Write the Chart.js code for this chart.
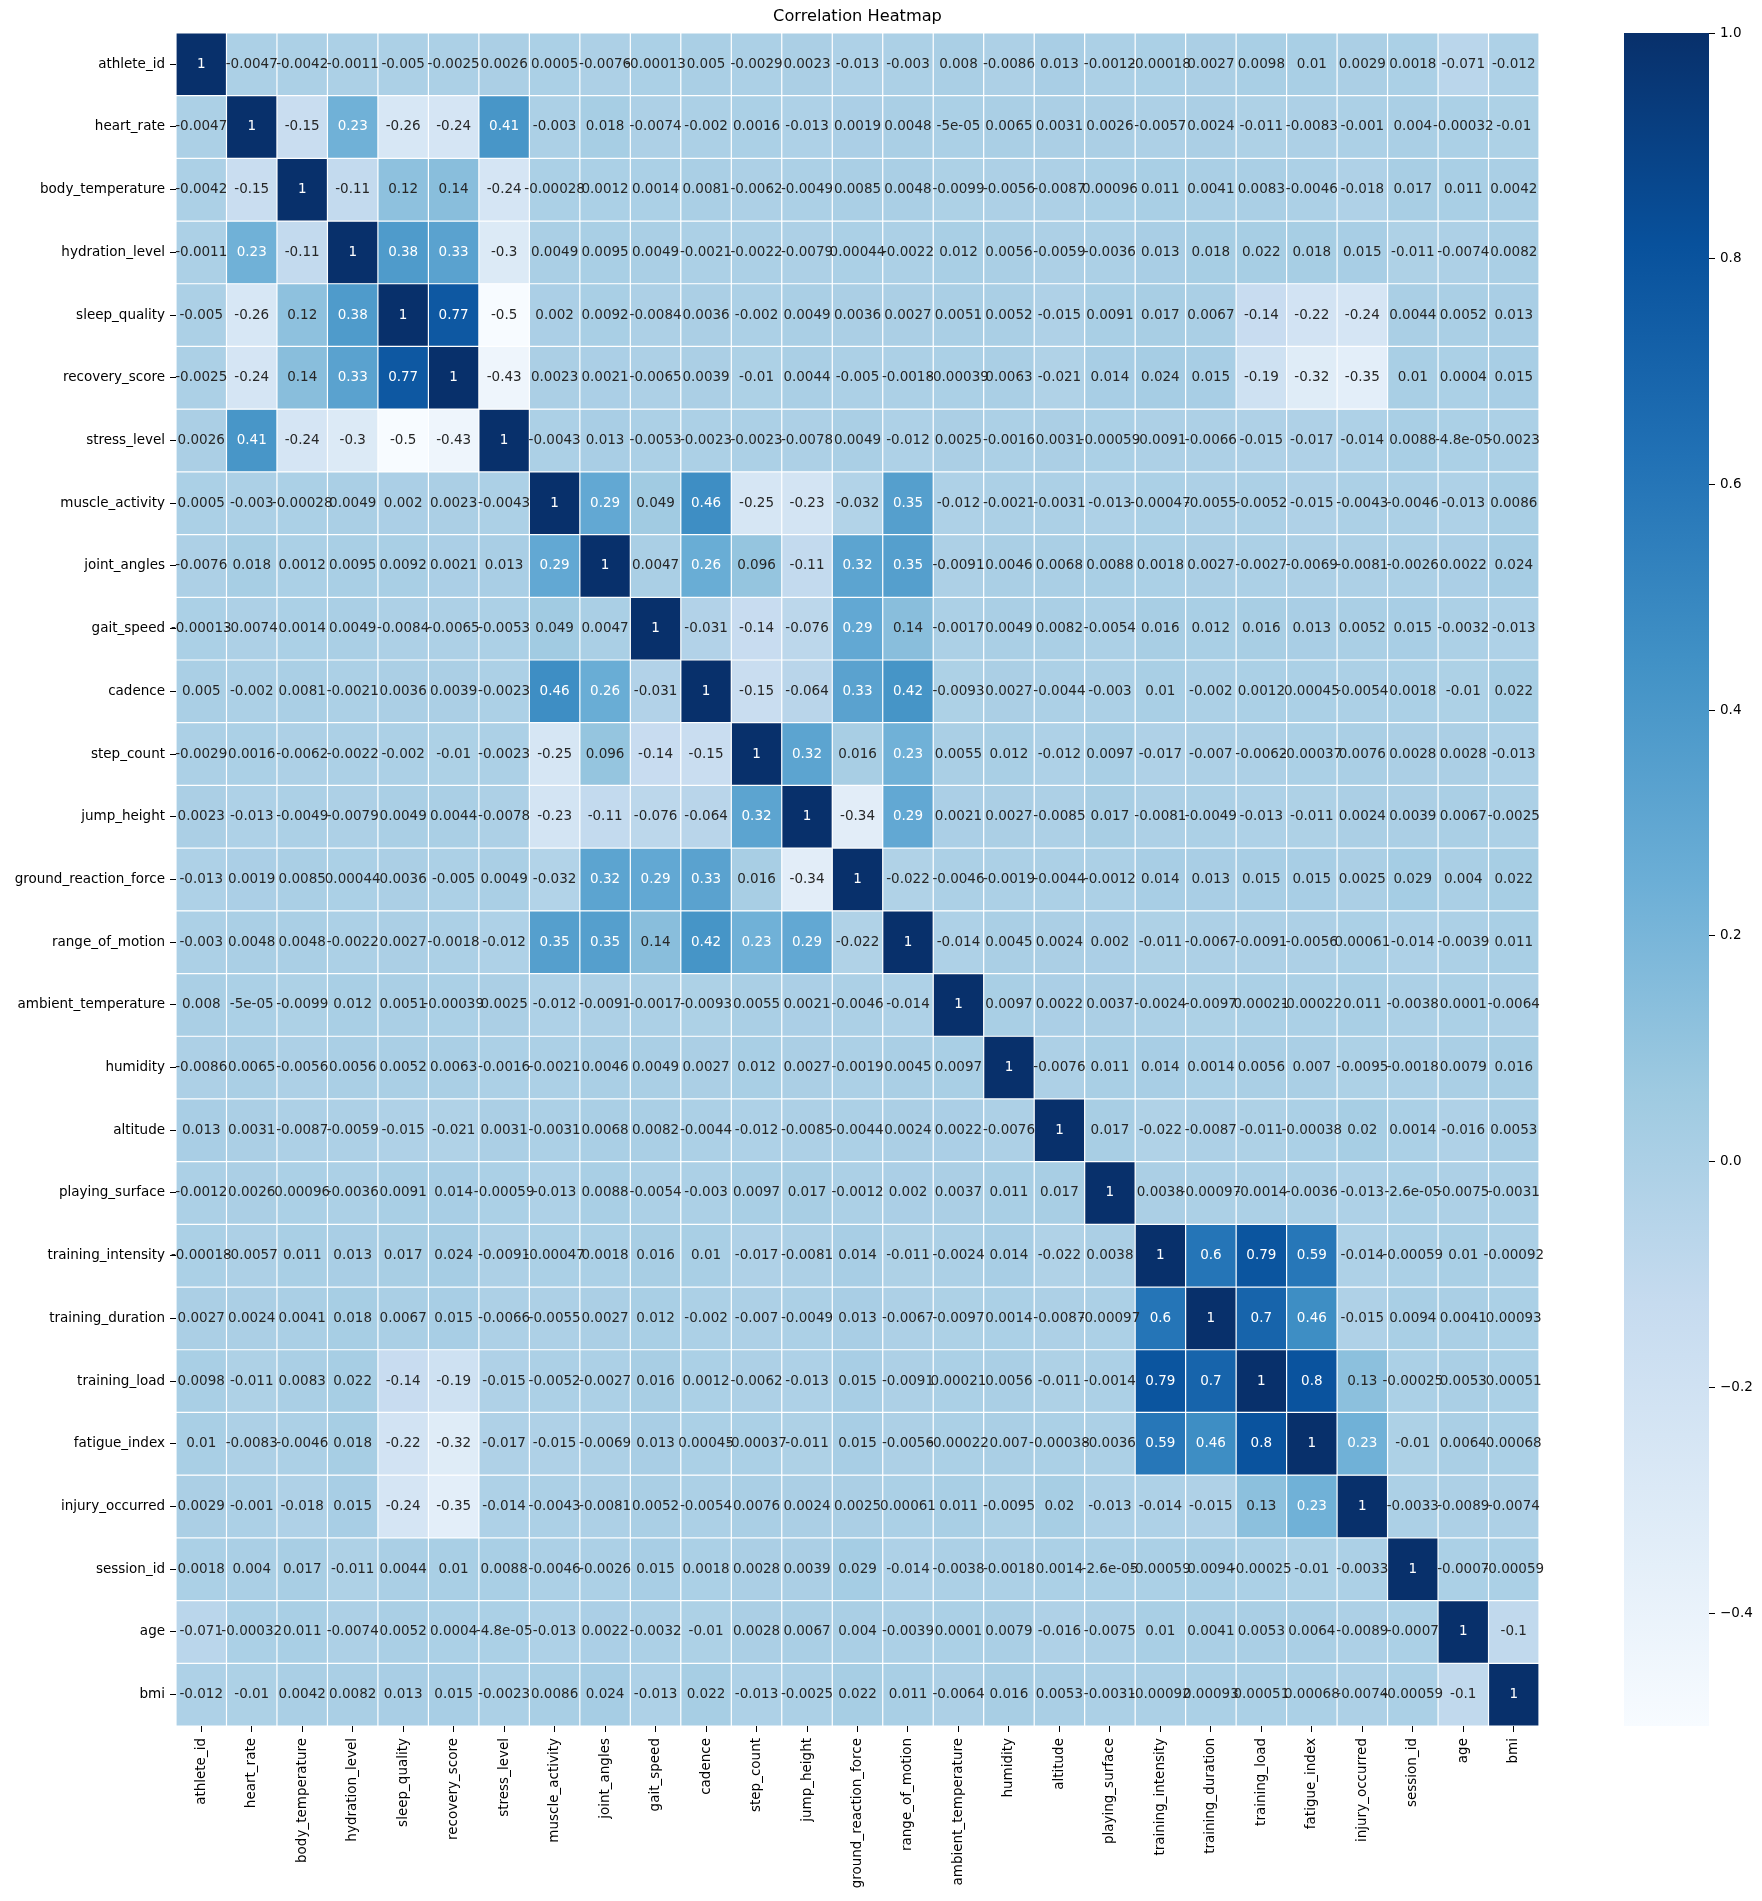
<!DOCTYPE html>
<html>
<head>
<meta charset="utf-8">
<title>Correlation Heatmap</title>
<script src="https://cdn.jsdelivr.net/npm/chart.js@4.4.1/dist/chart.umd.min.js"></script>
<style>
  html, body { margin: 0; padding: 0; background: #fff; }
  #wrap { position: relative; width: 1762px; height: 1901px; }
  #heatBox { position: absolute; left: 0; top: 0; width: 1600px; height: 1901px; }
  #barBox { position: absolute; left: 1600px; top: 0; width: 162px; height: 1901px; }
</style>
</head>
<body>
<div id="wrap">
  <div id="heatBox"><canvas id="heat"></canvas></div>
  <div id="barBox"><canvas id="cbar"></canvas></div>
</div>
<script>
// variable names (rows top to bottom, columns left to right)
const variables = ['athlete_id', 'heart_rate', 'body_temperature', 'hydration_level', 'sleep_quality',
  'recovery_score', 'stress_level', 'muscle_activity', 'joint_angles', 'gait_speed', 'cadence',
  'step_count', 'jump_height', 'ground_reaction_force', 'range_of_motion', 'ambient_temperature',
  'humidity', 'altitude', 'playing_surface', 'training_intensity', 'training_duration',
  'training_load', 'fatigue_index', 'injury_occurred', 'session_id', 'age', 'bmi'];

// one row of correlations per variable
const athlete_id = [1, -0.0047, -0.0042, -0.0011, -0.005, -0.0025, 0.0026, 0.0005, -0.0076, -0.00013, 0.005, -0.0029, 0.0023, -0.013, -0.003, 0.008, -0.0086, 0.013, -0.0012, -0.00018, 0.0027, 0.0098, 0.01, 0.0029, 0.0018, -0.071, -0.012];
const heart_rate = [-0.0047, 1, -0.15, 0.23, -0.26, -0.24, 0.41, -0.003, 0.018, -0.0074, -0.002, 0.0016, -0.013, 0.0019, 0.0048, -5e-05, 0.0065, 0.0031, 0.0026, -0.0057, 0.0024, -0.011, -0.0083, -0.001, 0.004, -0.00032, -0.01];
const body_temperature = [-0.0042, -0.15, 1, -0.11, 0.12, 0.14, -0.24, -0.00028, 0.0012, 0.0014, 0.0081, -0.0062, -0.0049, 0.0085, 0.0048, -0.0099, -0.0056, -0.0087, 0.00096, 0.011, 0.0041, 0.0083, -0.0046, -0.018, 0.017, 0.011, 0.0042];
const hydration_level = [-0.0011, 0.23, -0.11, 1, 0.38, 0.33, -0.3, 0.0049, 0.0095, 0.0049, -0.0021, -0.0022, -0.0079, 0.00044, -0.0022, 0.012, 0.0056, -0.0059, -0.0036, 0.013, 0.018, 0.022, 0.018, 0.015, -0.011, -0.0074, 0.0082];
const sleep_quality = [-0.005, -0.26, 0.12, 0.38, 1, 0.77, -0.5, 0.002, 0.0092, -0.0084, 0.0036, -0.002, 0.0049, 0.0036, 0.0027, 0.0051, 0.0052, -0.015, 0.0091, 0.017, 0.0067, -0.14, -0.22, -0.24, 0.0044, 0.0052, 0.013];
const recovery_score = [-0.0025, -0.24, 0.14, 0.33, 0.77, 1, -0.43, 0.0023, 0.0021, -0.0065, 0.0039, -0.01, 0.0044, -0.005, -0.0018, -0.00039, 0.0063, -0.021, 0.014, 0.024, 0.015, -0.19, -0.32, -0.35, 0.01, 0.0004, 0.015];
const stress_level = [0.0026, 0.41, -0.24, -0.3, -0.5, -0.43, 1, -0.0043, 0.013, -0.0053, -0.0023, -0.0023, -0.0078, 0.0049, -0.012, 0.0025, -0.0016, 0.0031, -0.00059, -0.0091, -0.0066, -0.015, -0.017, -0.014, 0.0088, -4.8e-05, -0.0023];
const muscle_activity = [0.0005, -0.003, -0.00028, 0.0049, 0.002, 0.0023, -0.0043, 1, 0.29, 0.049, 0.46, -0.25, -0.23, -0.032, 0.35, -0.012, -0.0021, -0.0031, -0.013, -0.00047, -0.0055, -0.0052, -0.015, -0.0043, -0.0046, -0.013, 0.0086];
const joint_angles = [-0.0076, 0.018, 0.0012, 0.0095, 0.0092, 0.0021, 0.013, 0.29, 1, 0.0047, 0.26, 0.096, -0.11, 0.32, 0.35, -0.0091, 0.0046, 0.0068, 0.0088, 0.0018, 0.0027, -0.0027, -0.0069, -0.0081, -0.0026, 0.0022, 0.024];
const gait_speed = [-0.00013, -0.0074, 0.0014, 0.0049, -0.0084, -0.0065, -0.0053, 0.049, 0.0047, 1, -0.031, -0.14, -0.076, 0.29, 0.14, -0.0017, 0.0049, 0.0082, -0.0054, 0.016, 0.012, 0.016, 0.013, 0.0052, 0.015, -0.0032, -0.013];
const cadence = [0.005, -0.002, 0.0081, -0.0021, 0.0036, 0.0039, -0.0023, 0.46, 0.26, -0.031, 1, -0.15, -0.064, 0.33, 0.42, -0.0093, 0.0027, -0.0044, -0.003, 0.01, -0.002, 0.0012, 0.00045, -0.0054, 0.0018, -0.01, 0.022];
const step_count = [-0.0029, 0.0016, -0.0062, -0.0022, -0.002, -0.01, -0.0023, -0.25, 0.096, -0.14, -0.15, 1, 0.32, 0.016, 0.23, 0.0055, 0.012, -0.012, 0.0097, -0.017, -0.007, -0.0062, -0.00037, 0.0076, 0.0028, 0.0028, -0.013];
const jump_height = [0.0023, -0.013, -0.0049, -0.0079, 0.0049, 0.0044, -0.0078, -0.23, -0.11, -0.076, -0.064, 0.32, 1, -0.34, 0.29, 0.0021, 0.0027, -0.0085, 0.017, -0.0081, -0.0049, -0.013, -0.011, 0.0024, 0.0039, 0.0067, -0.0025];
const ground_reaction_force = [-0.013, 0.0019, 0.0085, 0.00044, 0.0036, -0.005, 0.0049, -0.032, 0.32, 0.29, 0.33, 0.016, -0.34, 1, -0.022, -0.0046, -0.0019, -0.0044, -0.0012, 0.014, 0.013, 0.015, 0.015, 0.0025, 0.029, 0.004, 0.022];
const range_of_motion = [-0.003, 0.0048, 0.0048, -0.0022, 0.0027, -0.0018, -0.012, 0.35, 0.35, 0.14, 0.42, 0.23, 0.29, -0.022, 1, -0.014, 0.0045, 0.0024, 0.002, -0.011, -0.0067, -0.0091, -0.0056, 0.00061, -0.014, -0.0039, 0.011];
const ambient_temperature = [0.008, -5e-05, -0.0099, 0.012, 0.0051, -0.00039, 0.0025, -0.012, -0.0091, -0.0017, -0.0093, 0.0055, 0.0021, -0.0046, -0.014, 1, 0.0097, 0.0022, 0.0037, -0.0024, -0.0097, 0.00021, -0.00022, 0.011, -0.0038, 0.0001, -0.0064];
const humidity = [-0.0086, 0.0065, -0.0056, 0.0056, 0.0052, 0.0063, -0.0016, -0.0021, 0.0046, 0.0049, 0.0027, 0.012, 0.0027, -0.0019, 0.0045, 0.0097, 1, -0.0076, 0.011, 0.014, 0.0014, 0.0056, 0.007, -0.0095, -0.0018, 0.0079, 0.016];
const altitude = [0.013, 0.0031, -0.0087, -0.0059, -0.015, -0.021, 0.0031, -0.0031, 0.0068, 0.0082, -0.0044, -0.012, -0.0085, -0.0044, 0.0024, 0.0022, -0.0076, 1, 0.017, -0.022, -0.0087, -0.011, -0.00038, 0.02, 0.0014, -0.016, 0.0053];
const playing_surface = [-0.0012, 0.0026, 0.00096, -0.0036, 0.0091, 0.014, -0.00059, -0.013, 0.0088, -0.0054, -0.003, 0.0097, 0.017, -0.0012, 0.002, 0.0037, 0.011, 0.017, 1, 0.0038, -0.00097, -0.0014, -0.0036, -0.013, -2.6e-05, -0.0075, -0.0031];
const training_intensity = [-0.00018, -0.0057, 0.011, 0.013, 0.017, 0.024, -0.0091, -0.00047, 0.0018, 0.016, 0.01, -0.017, -0.0081, 0.014, -0.011, -0.0024, 0.014, -0.022, 0.0038, 1, 0.6, 0.79, 0.59, -0.014, -0.00059, 0.01, -0.00092];
const training_duration = [0.0027, 0.0024, 0.0041, 0.018, 0.0067, 0.015, -0.0066, -0.0055, 0.0027, 0.012, -0.002, -0.007, -0.0049, 0.013, -0.0067, -0.0097, 0.0014, -0.0087, -0.00097, 0.6, 1, 0.7, 0.46, -0.015, 0.0094, 0.0041, 0.00093];
const training_load = [0.0098, -0.011, 0.0083, 0.022, -0.14, -0.19, -0.015, -0.0052, -0.0027, 0.016, 0.0012, -0.0062, -0.013, 0.015, -0.0091, 0.00021, 0.0056, -0.011, -0.0014, 0.79, 0.7, 1, 0.8, 0.13, -0.00025, 0.0053, 0.00051];
const fatigue_index = [0.01, -0.0083, -0.0046, 0.018, -0.22, -0.32, -0.017, -0.015, -0.0069, 0.013, 0.00045, -0.00037, -0.011, 0.015, -0.0056, -0.00022, 0.007, -0.00038, -0.0036, 0.59, 0.46, 0.8, 1, 0.23, -0.01, 0.0064, 0.00068];
const injury_occurred = [0.0029, -0.001, -0.018, 0.015, -0.24, -0.35, -0.014, -0.0043, -0.0081, 0.0052, -0.0054, 0.0076, 0.0024, 0.0025, 0.00061, 0.011, -0.0095, 0.02, -0.013, -0.014, -0.015, 0.13, 0.23, 1, -0.0033, -0.0089, -0.0074];
const session_id = [0.0018, 0.004, 0.017, -0.011, 0.0044, 0.01, 0.0088, -0.0046, -0.0026, 0.015, 0.0018, 0.0028, 0.0039, 0.029, -0.014, -0.0038, -0.0018, 0.0014, -2.6e-05, -0.00059, 0.0094, -0.00025, -0.01, -0.0033, 1, -0.0007, -0.00059];
const age = [-0.071, -0.00032, 0.011, -0.0074, 0.0052, 0.0004, -4.8e-05, -0.013, 0.0022, -0.0032, -0.01, 0.0028, 0.0067, 0.004, -0.0039, 0.0001, 0.0079, -0.016, -0.0075, 0.01, 0.0041, 0.0053, 0.0064, -0.0089, -0.0007, 1, -0.1];
const bmi = [-0.012, -0.01, 0.0042, 0.0082, 0.013, 0.015, -0.0023, 0.0086, 0.024, -0.013, 0.022, -0.013, -0.0025, 0.022, 0.011, -0.0064, 0.016, 0.0053, -0.0031, -0.00092, 0.00093, 0.00051, 0.00068, -0.0074, -0.00059, -0.1, 1];

const colorbarTicks = [-0.4, -0.2, 0.0, 0.2, 0.4, 0.6, 0.8, 1.0];

const matrix = [athlete_id, heart_rate, body_temperature, hydration_level, sleep_quality,
  recovery_score, stress_level, muscle_activity, joint_angles, gait_speed, cadence,
  step_count, jump_height, ground_reaction_force, range_of_motion, ambient_temperature,
  humidity, altitude, playing_surface, training_intensity, training_duration,
  training_load, fatigue_index, injury_occurred, session_id, age, bmi];

// matplotlib "Blues"
const BLUES = [[247, 251, 255], [222, 235, 247], [198, 219, 239], [158, 202, 225], [107, 174, 214],
  [66, 146, 198], [33, 113, 181], [8, 81, 156], [8, 48, 107]];

const allValues = matrix.flat();
const vmin = Math.min(...allValues);
const vmax = Math.max(...allValues);

function blues(t) {
  t = Math.max(0, Math.min(1, t));
  const p = t * 8;
  const i = Math.min(7, Math.floor(p));
  const f = p - i;
  return BLUES[i].map((c, k) => c + (BLUES[i + 1][k] - c) * f);
}

function rgb(c) {
  return 'rgb(' + c.map(Math.round).join(',') + ')';
}

function cellRgb(v) {
  return blues((v - vmin) / (vmax - vmin));
}

// seaborn picks white text on dark cells
function textColor(v) {
  const lin = cellRgb(v).map(c => {
    c = c / 255;
    return c <= 0.03928 ? c / 12.92 : Math.pow((c + 0.055) / 1.055, 2.4);
  });
  const lum = 0.2126 * lin[0] + 0.7152 * lin[1] + 0.0722 * lin[2];
  return lum > 0.408 ? '#262626' : '#ffffff';
}

// python "{:.2g}"
function fmt2g(v) {
  if (v === 0) return '0';
  let exp = Math.floor(Math.log10(Math.abs(Number(v.toPrecision(2)))));
  if (exp < -4 || exp >= 2) {
    let [m, e] = v.toExponential(1).split('e');
    m = m.replace(/\.?0+$/, '');
    const sign = e[0] === '-' ? '-' : '+';
    e = e.replace(/^[+-]/, '');
    if (e.length < 2) e = '0' + e;
    return m + 'e' + sign + e;
  }
  let s = v.toPrecision(2);
  if (s.indexOf('.') >= 0) s = s.replace(/0+$/, '').replace(/\.$/, '');
  return s;
}

Chart.defaults.font.family = "'DejaVu Sans', sans-serif";
Chart.defaults.font.size = 13.5;
Chart.defaults.color = '#000';

const cellText = {
  id: 'cellText',
  afterDatasetsDraw(chart) {
    const ctx = chart.ctx;
    ctx.save();
    ctx.font = "13.5px 'DejaVu Sans', sans-serif";
    ctx.textAlign = 'center';
    ctx.textBaseline = 'middle';
    matrix.forEach((row, r) => {
      chart.getDatasetMeta(r).data.forEach((bar, c) => {
        const p = bar.getCenterPoint();
        ctx.fillStyle = textColor(row[c]);
        ctx.fillText(fmt2g(row[c]), p.x, p.y);
      });
    });
    ctx.restore();
  }
};

const datasets = matrix.map((row, r) => ({
  label: variables[r],
  data: row.map(() => [r, r + 1]),
  backgroundColor: row.map(v => rgb(cellRgb(v))),
  borderColor: '#ffffff',
  borderWidth: 0.6,
  borderSkipped: false,
  inflateAmount: 0,
  barPercentage: 1,
  categoryPercentage: 1,
  grouped: false
}));

new Chart(document.getElementById('heat'), {
  type: 'bar',
  data: { labels: variables, datasets: datasets },
  options: {
    responsive: true,
    maintainAspectRatio: false,
    animation: false,
    layout: { padding: { left: 0, right: 61, top: 0, bottom: 0 } },
    plugins: {
      legend: { display: false },
      tooltip: { enabled: false },
      title: {
        display: true,
        text: 'Correlation Heatmap',
        fullSize: false,
        color: '#000',
        font: { size: 16.2, weight: 'normal' },
        padding: { top: 7, bottom: 6.5 }
      }
    },
    scales: {
      x: {
        type: 'category',
        grid: { offset: false, drawOnChartArea: false, drawTicks: true, tickLength: 6, tickColor: '#000' },
        border: { display: false },
        ticks: { autoSkip: false, maxRotation: 90, minRotation: 90, padding: 6, color: '#000' },
        afterFit: s => { s.height = 175; }
      },
      y: {
        type: 'linear',
        reverse: true,
        min: 0,
        max: variables.length,
        grid: { drawOnChartArea: false, drawTicks: true, tickLength: 6, tickColor: '#000' },
        border: { display: false },
        afterBuildTicks: s => { s.ticks = variables.map((_, i) => ({ value: i + 0.5 })); },
        ticks: { autoSkip: false, padding: 5, color: '#000', callback: (v, i) => variables[i] },
        afterFit: s => { s.width = 176; }
      }
    }
  },
  plugins: [cellText]
});

// colour bar
new Chart(document.getElementById('cbar'), {
  type: 'bar',
  data: {
    labels: [''],
    datasets: [{
      data: [[vmin, vmax]],
      barPercentage: 1,
      categoryPercentage: 1,
      borderWidth: 0,
      backgroundColor: context => {
        const chart = context.chart;
        if (!chart.chartArea) return rgb(BLUES[4]);
        const ys = chart.scales.y;
        const g = chart.ctx.createLinearGradient(0, ys.getPixelForValue(vmin), 0, ys.getPixelForValue(vmax));
        BLUES.forEach((c, i) => g.addColorStop(i / 8, rgb(c)));
        return g;
      }
    }]
  },
  options: {
    responsive: true,
    maintainAspectRatio: false,
    animation: false,
    layout: { padding: { left: 24, right: 0, top: 33, bottom: 175 } },
    plugins: { legend: { display: false }, tooltip: { enabled: false } },
    scales: {
      x: { display: false },
      y: {
        position: 'right',
        min: vmin,
        max: vmax,
        grid: { drawOnChartArea: false, drawTicks: true, tickLength: 6, tickColor: '#000' },
        border: { display: false },
        afterBuildTicks: s => { s.ticks = colorbarTicks.map(v => ({ value: v })); },
        ticks: {
          padding: 5,
          color: '#000',
          callback: v => (v < -1e-9 ? '\u2212' : '') + Math.abs(v).toFixed(1)
        },
        afterFit: s => { s.width = 53; }
      }
    }
  }
});
</script>
</body>
</html>
